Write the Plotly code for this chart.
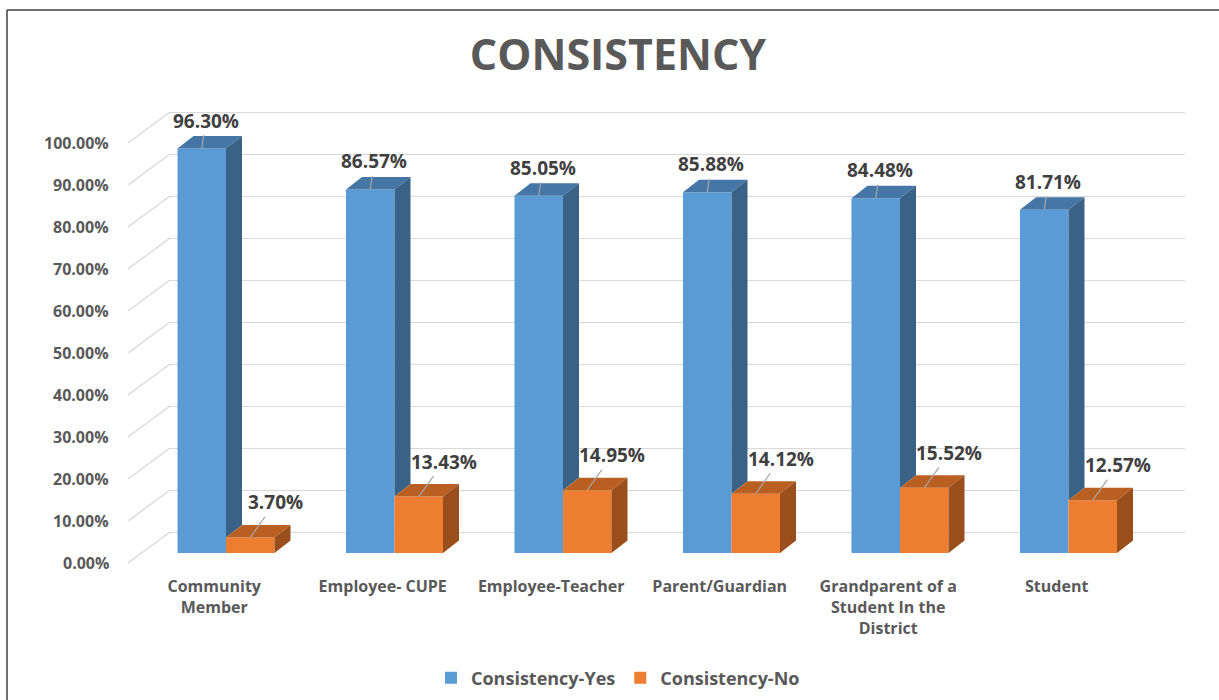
import plotly.graph_objects as go

categories = ["Community<br>Member", "Employee- CUPE", "Employee-Teacher", "Parent/Guardian",
              "Grandparent of a<br>Student In the<br>District", "Student"]
yes_values = [96.30, 86.57, 85.05, 85.88, 84.48, 81.71]
no_values = [3.70, 13.43, 14.95, 14.12, 15.52, 12.57]
y_ticks = [0, 10, 20, 30, 40, 50, 60, 70, 80, 90, 100]
series_names = ["Consistency-Yes", "Consistency-No"]

# ---- layout geometry (style constants) ----
W, H = 1219, 700
L, R, T, B = 170, 34, 100, 125
PW, PH = W - L - R, H - T - B
Y_RANGE = [-10.238, 102.857]
PXU = PH / (Y_RANGE[1] - Y_RANGE[0])          # px per % unit
CAT_PX = 168.5                                 # px per category
X_RANGE = [(0 - 56) / CAT_PX, (PW - 56) / CAT_PX]
BW = 48.5 / CAT_PX                             # bar width (x units)
DX = 16 / CAT_PX                               # depth x
DY = 12.5 / PXU                                # depth y
FRONT = -21 / PXU                              # front base offset

BLUE, BLUE_TOP, BLUE_SIDE = "#5B9BD5", "#4676A6", "#3A6286"
ORG, ORG_TOP, ORG_SIDE = "#ED7D31", "#B95F22", "#9A4E1B"
TXT = "#595959"
FONT = "Open Sans"

fig = go.Figure()
xs = list(range(len(categories)))

# front faces
fig.add_trace(go.Bar(x=xs, y=yes_values, base=FRONT, offset=-BW, width=BW,
                     marker=dict(color=BLUE, line=dict(width=0)), name=series_names[0]))
fig.add_trace(go.Bar(x=xs, y=no_values, base=FRONT, offset=0, width=BW,
                     marker=dict(color=ORG, line=dict(width=0)), name=series_names[1]))


def poly(px, py, color):
    fig.add_trace(go.Scatter(x=px + [px[0]], y=py + [py[0]], mode="lines", fill="toself",
                             fillcolor=color, line=dict(width=0, color=color),
                             hoverinfo="skip", showlegend=False))


for i, (v, o) in enumerate(zip(yes_values, no_values)):
    # blue bar
    xl, xr = i - BW, i
    top = FRONT + v
    poly([xl, xr, xr + DX, xl + DX], [top, top, top + DY, top + DY], BLUE_TOP)
    ot = FRONT + o
    poly([xr, xr, xr + DX, xr + DX], [ot, top, top + DY, ot + DY], BLUE_SIDE)
    # orange bar
    xl2, xr2 = i, i + BW
    poly([xl2, xr2, xr2 + DX, xl2 + DX], [ot, ot, ot + DY, ot + DY], ORG_TOP)
    poly([xr2, xr2, xr2 + DX, xr2 + DX], [FRONT, ot, ot + DY, FRONT + DY], ORG_SIDE)

annotations = []
# data labels
for i, (v, o) in enumerate(zip(yes_values, no_values)):
    annotations.append(dict(x=i - BW / 2, y=FRONT + v, xref="x", yref="y", text=f"{v:.2f}%",
                            showarrow=True, arrowhead=0, arrowwidth=1.2, arrowcolor="#A6A6A6",
                            ax=4, ay=-28, font=dict(family=FONT, size=19, color="#404040", weight="bold")))
    annotations.append(dict(x=i + BW / 2, y=FRONT + o, xref="x", yref="y", text=f"{o:.2f}%",
                            showarrow=True, arrowhead=0, arrowwidth=1.2, arrowcolor="#A6A6A6",
                            ax=25, ay=-35, font=dict(family=FONT, size=19, color="#404040", weight="bold")))

shapes = []
LBL_DY = 31 / PXU
for t in y_ticks:
    annotations.append(dict(x=0, y=t - LBL_DY, xref="paper", yref="y", text=f"{t:.2f}%",
                            showarrow=False, xanchor="right", xshift=-59,
                            font=dict(family=FONT, size=16, color=TXT, weight="bold")))
    shapes.append(dict(type="line", xref="paper", yref="y", x0=-42 / PW, x1=0,
                       y0=t - LBL_DY, y1=t, line=dict(color="#D9D9D9", width=1.3)))

# outer border (left and top edges visible)
shapes.append(dict(type="line", xref="paper", yref="paper", x0=(7 - L) / PW, x1=(7 - L) / PW,
                   y0=(H - B - 10) / PH, y1=-0.3, line=dict(color="#404040", width=1.5)))
shapes.append(dict(type="line", xref="paper", yref="paper", x0=(7 - L) / PW, x1=1.1,
                   y0=(H - B - 10) / PH, y1=(H - B - 10) / PH, line=dict(color="#404040", width=1.5)))

fig.update_layout(
    width=W, height=H,
    margin=dict(l=L, r=R, t=T, b=B),
    paper_bgcolor="white", plot_bgcolor="white",
    barmode="overlay",
    title=dict(text="CONSISTENCY", x=618 / W, xref="container", xanchor="center",
               y=1 - 55 / H, yref="container", yanchor="middle",
               font=dict(family=FONT, size=43, color=TXT, weight="bold")),
    xaxis=dict(range=X_RANGE, tickvals=[i - 0.07 for i in xs], ticktext=categories,
               showgrid=False, zeroline=False, showline=False, ticks="",
               tickfont=dict(family=FONT, size=16, color=TXT, weight="bold")),
    yaxis=dict(range=Y_RANGE, tickvals=y_ticks, showticklabels=False, showgrid=True,
               gridcolor="#D9D9D9", gridwidth=1.3, zeroline=False, showline=False, ticks=""),
    legend=dict(orientation="h", xref="container", x=618 / W, xanchor="center",
                yref="container", y=1 - 678 / H, yanchor="middle",
                font=dict(family=FONT, size=18, color=TXT, weight="bold"), traceorder="normal"),
    annotations=annotations,
    shapes=shapes,
    showlegend=True,
)

fig.write_html("out.html", config={"displayModeBar": False},
               post_script="document.body.style.margin='0';")
